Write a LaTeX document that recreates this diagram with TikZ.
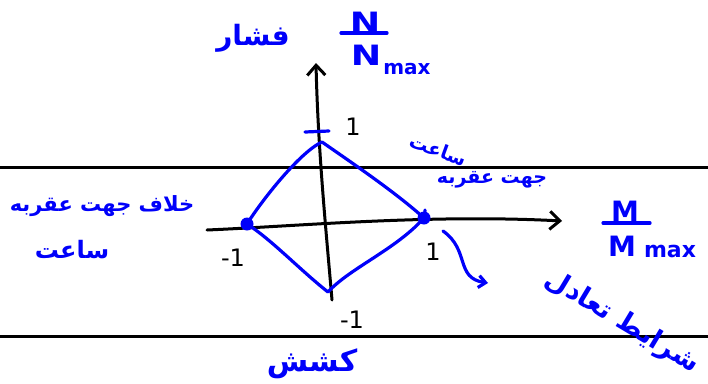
\documentclass[tikz,border=0pt]{standalone}
\usepackage{fontspec}
\setmainfont{DejaVu Sans}
\newfontfamily\arabicfont[Script=Arabic]{DejaVu Sans}
\TeXXeTstate=1
\usetikzlibrary{arrows.meta}
\definecolor{ink}{RGB}{0,0,250}
\begin{document}
\begin{tikzpicture}[x=1pt,y=-1pt,
  blk/.style={line width=3pt,black,line cap=round},
  bl/.style={line width=3.2pt,ink,line cap=round,line join=round},
  bt/.style={text=ink,inner sep=0pt},
  num/.style={text=black,inner sep=0pt,font=\fontsize{24}{24}\selectfont},
  ar/.style={text=ink,inner sep=0pt,font=\arabicfont\bfseries\fontsize{21}{21}\selectfont}]
\useasboundingbox (0,0) rectangle (708,383);
% long horizontal lines
\coordinate (h1a) at (0,167); \coordinate (h1b) at (708,167);
\coordinate (h2a) at (0,336); \coordinate (h2b) at (708,336);
\draw[blk] (h1a) -- (h1b);
\draw[blk] (h2a) -- (h2b);
% axes
\coordinate (vb) at (332,300); \coordinate (vt) at (316,63);
\coordinate (hl) at (207,230); \coordinate (hr) at (562,221);
\draw[blk,-{Straight Barb[length=10pt,width=18pt]}] (vb) .. controls (326,230) and (318,150) .. (vt);
\draw[blk,-{Straight Barb[length=10pt,width=18pt]}] (hl) .. controls (300,226) and (430,214) .. (hr);
% diamond
\coordinate (T) at (322,142);
\coordinate (L) at (247,224);
\coordinate (B) at (328,292);
\coordinate (R) at (424,218);
\draw[bl] (T) .. controls (300,152) and (262,200) .. (L)
          .. controls (272,240) and (300,270) .. (B)
          .. controls (350,268) and (395,250) .. (R)
          .. controls (395,192) and (355,165) .. (T);
\coordinate (tk1) at (305,132); \coordinate (tk2) at (329,131);
\draw[bl] (tk1) -- (tk2);
\coordinate (rk1) at (425,210); \coordinate (rk2) at (424,222);
\draw[bl] (rk1) -- (rk2);
\fill[ink] (L) circle (6.5);
\fill[ink] (R) circle (6.5);
% numbers
\node[num] (n1) at (353,127) {1};
\node[num] (nm1) at (233,258) {-1};
\node[num] (n2) at (433,252) {1};
\node[num] (nm2) at (352,320) {-1};
% N/Nmax
\node[bt,font=\bfseries\fontsize{28}{28}\selectfont,xscale=1.3] (Ntop) at (365,22) {N};
\coordinate (nb1) at (341,33); \coordinate (nb2) at (387,33);
\draw[bl] (nb1) -- (nb2);
\node[bt,font=\bfseries\fontsize{28}{28}\selectfont,xscale=1.3] (Nbot) at (366,55) {N};
\node[bt,font=\bfseries\fontsize{20}{20}\selectfont] (nmax) at (407,69) {max};
% M/Mmax
\node[bt,font=\bfseries\fontsize{28}{28}\selectfont] (Mtop) at (625,211) {M};
\coordinate (mb1) at (603,223); \coordinate (mb2) at (650,223);
\draw[bl] (mb1) -- (mb2);
\node[bt,font=\bfseries\fontsize{28}{28}\selectfont] (Mbot) at (622,246) {M};
\node[bt,font=\bfseries\fontsize{22}{22}\selectfont] (mmax) at (670,251) {max};
% Persian labels
\node[ar,font=\arabicfont\bfseries\fontsize{28}{28}\selectfont] (fes) at (253,38) {\beginR فشار\endR};
\node[ar,font=\arabicfont\bfseries\fontsize{30}{30}\selectfont] (kes) at (312,364) {\beginR کشش\endR};
\node[ar] (ccw1) at (102,206) {\beginR خلاف جهت عقربه\endR};
\node[ar,font=\arabicfont\bfseries\fontsize{24}{24}\selectfont] (ccw2) at (72,250) {\beginR ساعت\endR};
\node[ar,font=\arabicfont\bfseries\fontsize{19}{19}\selectfont] (cw1) at (492,180) {\beginR جهت عقربه\endR};
\node[ar,font=\arabicfont\bfseries\fontsize{19}{19}\selectfont,rotate=-20] (cw2) at (438,150) {\beginR ساعت\endR};
\node[ar,font=\arabicfont\bfseries\fontsize{27}{27}\selectfont,rotate=-31] (eq) at (622,322) {\beginR شرایط تعادل\endR};
% curved arrow
\coordinate (ca1) at (443,231); \coordinate (ca2) at (488,283);
\draw[bl,-{Straight Barb[length=7pt,width=12pt]}] (ca1) .. controls (470,250) and (455,278) .. (ca2);
\end{tikzpicture}
\end{document}
